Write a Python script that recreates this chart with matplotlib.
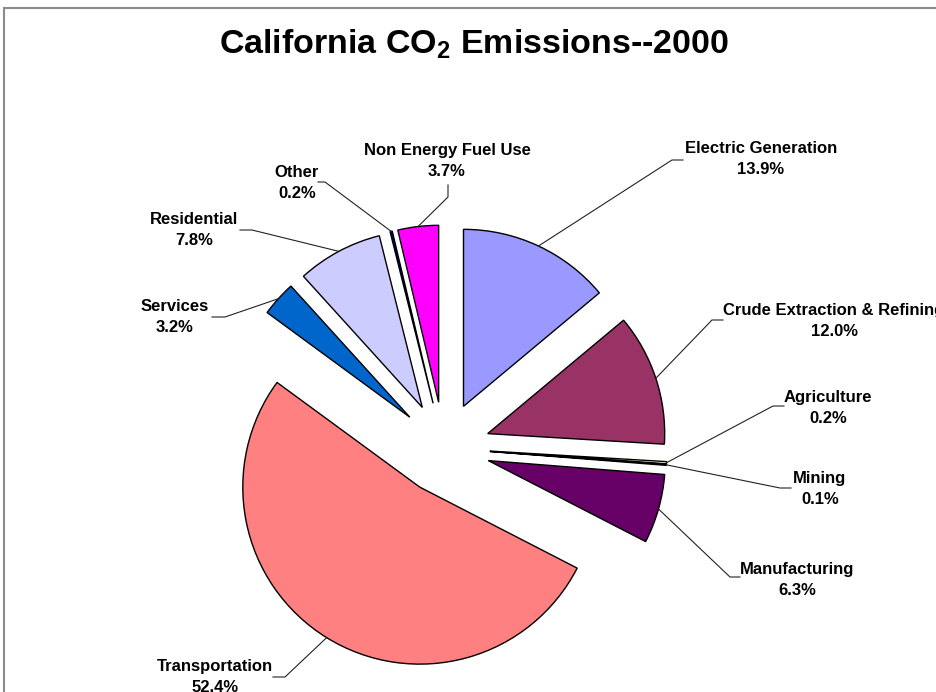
import matplotlib
matplotlib.use("Agg")
import matplotlib.pyplot as plt
from matplotlib.patches import Rectangle
import numpy as np

plt.rcParams['font.family'] = ['Liberation Sans', 'DejaVu Sans']
plt.rcParams['mathtext.fontset'] = 'custom'
plt.rcParams['mathtext.rm'] = 'Liberation Sans:bold'
plt.rcParams['mathtext.bf'] = 'Liberation Sans:bold'
plt.rcParams['mathtext.default'] = 'bf'

# ---- data ----
categories = ["Electric Generation", "Crude Extraction & Refining", "Agriculture",
              "Mining", "Manufacturing", "Transportation", "Services",
              "Residential", "Other", "Non Energy Fuel Use"]
shares = [13.9, 12.0, 0.2, 0.1, 6.3, 52.4, 3.2, 7.8, 0.2, 3.7]
colors = ["#9999FF", "#993366", "#FFFFCC", "#CCFFFF", "#660066",
          "#FF8080", "#0066CC", "#CCCCFF", "#000080", "#FF00FF"]
title = "California CO$_2$ Emissions--2000"

W, H = 936, 692
def Y(py):
    return H - py

# label layout (pixel coords, top-left origin): text centre, elbow, end of leader
label_pos = [(761, 159), (834, 321), (828, 408), (820, 489), (797, 580),
             (215, 677), (175, 317), (194, 230), (297, 183), (447, 161)]
elbows = [(672, 160), (712, 320), (773, 406), (780, 488), (730, 577),
          (285, 677), (225, 317), (252, 230), (325, 182), (448, 197)]
ends = [(683, 160), (723, 320), (784, 406), (791, 488), (740, 577),
        (273, 677), (212, 317), (240, 230), (318, 182), (448, 185)]

fig = plt.figure(figsize=(W / 100, H / 100), dpi=100)
ax = fig.add_axes([0, 0, 1, 1])

radius = 177
explode_px = 46
wedges, _ = ax.pie(shares, colors=colors, startangle=90, counterclock=False,
                   explode=[explode_px] * len(shares), radius=radius,
                   center=(444, Y(448)), frame=True,
                   wedgeprops=dict(edgecolor='black', linewidth=1.0))
ax.set_xlim(0, W)
ax.set_ylim(0, H)
ax.set_aspect('equal')
ax.axis('off')

# frame
ax.add_patch(Rectangle((4, Y(8) - 2000), 3000, 2000, fill=False,
                       edgecolor='#8c8c8c', linewidth=1.5, clip_on=True))

for w, cat, val, lp, el, en in zip(wedges, categories, shares, label_pos, elbows, ends):
    ang = np.deg2rad((w.theta1 + w.theta2) / 2)
    cx, cy = w.center
    sx = cx + w.r * np.cos(ang)
    sy = cy + w.r * np.sin(ang)
    ax.plot([sx, el[0], en[0]], [sy, Y(el[1]), Y(en[1])], color='#222222',
            linewidth=0.8, solid_joinstyle='miter')
    ax.text(lp[0], Y(lp[1]), f"{cat}\n{val:.1f}%", ha='center', va='center',
            fontsize=12, fontweight='bold', linespacing=1.45, color='black')

ax.text(474, Y(54), title, ha='center', va='baseline', fontsize=24.5,
        fontweight='bold', color='black')

fig.savefig("out.png", dpi=100)
